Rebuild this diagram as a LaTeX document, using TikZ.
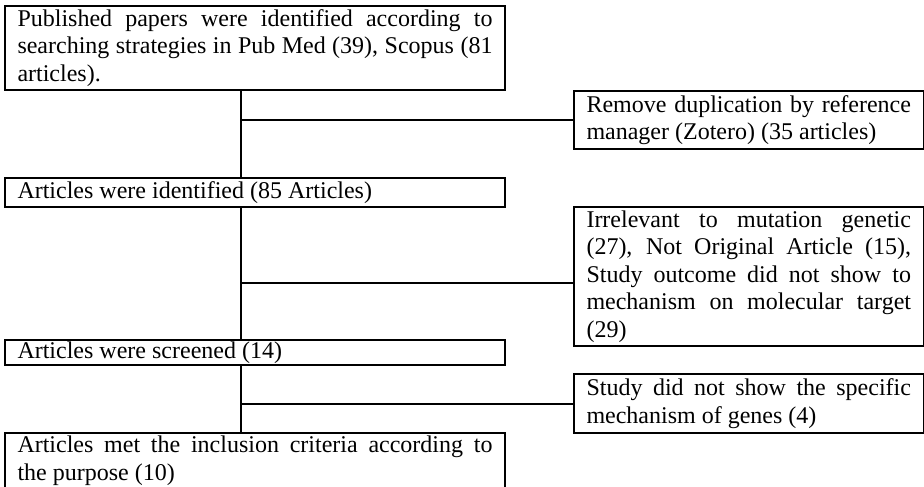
\documentclass[tikz,border=0pt]{standalone}
\usepackage{fontspec}
\setmainfont{Liberation Serif}
\hyphenpenalty=10000
\exhyphenpenalty=10000
\tolerance=10000
\begin{document}
\begin{tikzpicture}[x=0.75pt, y=-0.75pt, line width=1.5pt,
  box/.style={draw, anchor=north west, align=justify, inner xsep=9.375pt, inner ysep=0pt,
    font=\fontsize{18}{20.7}\selectfont},
  lbox/.style={box, text width=356.25pt},
  rbox/.style={box, text width=243.375pt}]
\useasboundingbox (0,0) rectangle (924,486);

% left column
\node[lbox, minimum height=63pt] (pub) at (4,5) {Published papers were identified according to searching strategies in Pub Med (39), Scopus (81 articles).};
\node[lbox, minimum height=21.75pt] (ident) at (4,177) {Articles were identified (85 Articles)};
\node[lbox, minimum height=18.75pt] (scr) at (4,339) {Articles were screened (14)};
\node[lbox, minimum height=41.25pt] (incl) at (4,432) {Articles met the inclusion criteria according to\linebreak the purpose (10)};

% right column
\node[rbox, minimum height=43.5pt] (dup) at (573,90) {Remove duplication by reference manager (Zotero) (35 articles)};
\node[rbox, minimum height=104.25pt] (irr) at (573,206) {Irrelevant to mutation genetic (27), Not Original Article (15), Study outcome did not show to mechanism on molecular target (29)};
\node[rbox, minimum height=44.25pt] (spec) at (573,373) {Study did not show the specific mechanism of genes (4)};

% connectors
\coordinate (spine) at (241,283);
\draw (spine |- pub.south) -- (spine |- ident.north);
\draw (spine |- dup.west) -- (dup.west);
\draw (spine |- ident.south) -- (spine |- scr.north);
\draw (spine) -- (spine -| irr.west);
\draw (spine |- scr.south) -- (spine |- incl.north);
\draw (spine |- spec.west) -- (spec.west);

\end{tikzpicture}
\end{document}
